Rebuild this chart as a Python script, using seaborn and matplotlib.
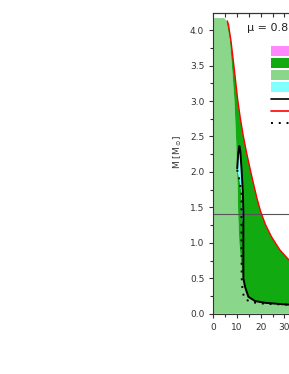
#!/usr/bin/env python3
"""Mass region plot, mu = 0.8 panel (cropped on the right)."""
import matplotlib
matplotlib.use("Agg")
import matplotlib.pyplot as plt
from matplotlib.lines import Line2D
from matplotlib.patches import Patch
from matplotlib.ticker import MultipleLocator
import seaborn as sns

# red boundary curve (X, M)
red_x = [5.9, 6.4, 7.5, 8.9, 10.3, 11.4, 12.6, 14.0, 15.5, 17.0, 18.5, 20.0,
         22.0, 24.5, 28.1, 31.9, 36.0, 42.0, 50.0]
red_m = [4.13, 4.08, 3.84, 3.44, 3.02, 2.76, 2.52, 2.28, 2.05, 1.83, 1.62,
         1.44, 1.26, 1.09, 0.90, 0.76, 0.65, 0.55, 0.46]

# right edge of the light green region
edge_x = [4.5, 5.0, 5.6, 7.0, 8.0, 8.9, 9.4, 9.7, 9.9, 10.3, 10.5, 11.0, 11.8, 12.5]
edge_m = [4.17, 4.16, 4.12, 3.86, 3.44, 3.02, 2.64, 2.40, 2.10, 1.80, 1.40,
          1.00, 0.70, 0.50]

# solid black curve
black_x = [10.1, 10.5, 11.0, 11.4, 12.0, 12.5, 12.7, 12.7, 12.7, 13.4, 14.8,
           17.6, 21.8, 31.0, 50.0]
black_m = [2.05, 2.25, 2.365, 2.30, 2.00, 1.70, 1.40, 0.90, 0.50, 0.38, 0.24,
           0.18, 0.155, 0.13, 0.115]

# dotted black curve
dot_x = [10.1, 11.0, 11.9, 11.9, 12.0, 12.4, 13.5, 17.0, 22.0, 31.0, 50.0]
dot_m = [2.03, 1.89, 1.70, 1.00, 0.50, 0.30, 0.20, 0.16, 0.14, 0.13, 0.115]

# small cyan pocket
cyan_x = [10.1, 10.5, 11.0, 11.4, 12.0, 12.5, 12.6, 12.2, 11.9, 11.0, 10.1]
cyan_m = [2.05, 2.25, 2.36, 2.30, 2.00, 1.70, 1.30, 1.30, 1.70, 1.89, 2.03]

top_m = 4.17
m_limit = 1.4
mu_label = "\u03bc = 0.8"
legend_labels = ["unstable", "stable", "allowed", "metastable",
                 "M(R)", "maximal", "minimal"]

C_PINK = "#ff88ff"
C_GREEN = "#11aa11"
C_LGREEN = "#8ad68a"
C_CYAN = "#80ffff"

sns.set_style("ticks")
plt.rcParams["font.family"] = ["DejaVu Sans"]

fig = plt.figure(figsize=(2.89, 3.74), dpi=100)
ax = fig.add_axes([0.738, 0.161, 0.410, 0.804])

tail = 8  # black curve from here on bounds the bottom of the green area

# light green: everything left of the edge and below the black curve
lg_x = [0, 0] + edge_x + black_x[tail:] + [black_x[-1]]
lg_m = [0, top_m] + edge_m + black_m[tail:] + [0]
ax.fill(lg_x, lg_m, color=C_LGREEN, lw=0)

# green: between the edge / black curve and the red curve
gr_x = red_x + black_x[tail:][::-1] + edge_x[::-1][:-2]
gr_m = red_m + black_m[tail:][::-1] + edge_m[::-1][:-2]
ax.fill(gr_x, gr_m, color=C_GREEN, lw=0)

ax.fill(cyan_x, cyan_m, color=C_CYAN, lw=0)

ax.axhline(m_limit, color="#555555", lw=0.8)

sns.lineplot(x=black_x, y=black_m, sort=False, estimator=None, ax=ax,
             color="black", lw=1.4)
sns.lineplot(x=dot_x, y=dot_m, sort=False, estimator=None, ax=ax,
             color="black", lw=1.4, linestyle=(0, (1, 3)))
sns.lineplot(x=red_x, y=red_m, sort=False, estimator=None, ax=ax,
             color="red", lw=1.0)

ax.set_xlim(0, 50)
ax.set_ylim(0, 4.24)
ax.xaxis.set_major_locator(MultipleLocator(10))
ax.xaxis.set_minor_locator(MultipleLocator(5))
ax.yaxis.set_major_locator(MultipleLocator(0.5))
ax.yaxis.set_minor_locator(MultipleLocator(0.25))
ax.tick_params(which="both", direction="out", labelsize=6.5, colors="#333333",
               width=0.8)
ax.tick_params(which="major", length=3)
ax.tick_params(which="minor", length=2)
for s in ax.spines.values():
    s.set_linewidth(0.8)
    s.set_color("#333333")

top = ax.secondary_xaxis("top")
top.xaxis.set_major_locator(MultipleLocator(5))
top.tick_params(direction="in", length=3, width=0.8, labeltop=False,
                colors="#333333")

ax.set_xlabel("")
ax.set_ylabel(r"M [M$_\odot$]", fontsize=6.5, color="#333333")
ax.yaxis.set_label_coords(-0.25, 0.54)

ax.text(23, 4.03, mu_label, fontsize=8, ha="center", va="center",
        color="#222222")

handles = [
    Patch(facecolor=C_PINK, edgecolor="none"),
    Patch(facecolor=C_GREEN, edgecolor="none"),
    Patch(facecolor=C_LGREEN, edgecolor="none"),
    Patch(facecolor=C_CYAN, edgecolor="none"),
    Line2D([], [], color="black", lw=1.2),
    Line2D([], [], color="red", lw=1.2),
    Line2D([], [], color="black", lw=1.4, linestyle=(0, (1, 3))),
]
ax.legend(handles, legend_labels, loc="upper left", bbox_to_anchor=(24.3, 3.78),
          bbox_transform=ax.transData, frameon=False, fontsize=7,
          handlelength=3.5, handleheight=1.2, labelspacing=0.2,
          borderpad=0, borderaxespad=0)

fig.savefig("out.png", dpi=100)
